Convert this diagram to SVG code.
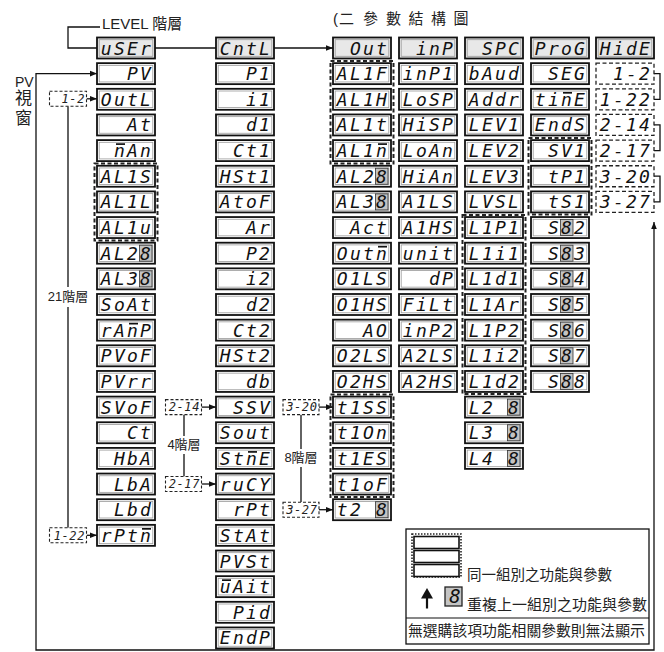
<svg xmlns="http://www.w3.org/2000/svg" xmlns:xlink="http://www.w3.org/1999/xlink" width="664" height="652" viewBox="0 0 664 652">
<style>
.box{fill:#fff;stroke:#111;stroke-width:1.8}
.hbox{fill:#e8e8e8;stroke:#111;stroke-width:1.8}
.inner{fill:none;stroke:#9a9a9a;stroke-width:0.8}
.seg{font-family:"DejaVu Sans Mono","Liberation Mono",monospace;font-style:italic;font-size:18px;letter-spacing:2.2px;text-anchor:end;fill:#111}
.segs{font-family:"DejaVu Sans Mono","Liberation Mono",monospace;font-style:italic;font-size:12px;letter-spacing:0.6px;text-anchor:end;fill:#222}
.cell{fill:#c4c4c4;stroke:#333;stroke-width:0.8}
.grp{fill:none;stroke:#222;stroke-width:2;stroke-dasharray:4 2.5}
.dbox{fill:#fff;stroke:#222;stroke-width:1.3;stroke-dasharray:4 2.5}
.lbl{fill:#fff;stroke:#222;stroke-width:1.1;stroke-dasharray:3 2}
.ln{fill:none;stroke:#111;stroke-width:1.3}
.ov{fill:none;stroke:#111;stroke-width:1.7}
.cjk{font-family:"Liberation Sans","Noto Sans CJK TC",sans-serif;fill:#222}
</style>
<defs>
<g id="b"><rect class="box" width="58" height="21"/><rect class="inner" x="2.2" y="2.2" width="53.6" height="16.6"/></g>
<g id="hb"><rect class="hbox" width="58" height="21"/><rect class="inner" x="2.2" y="2.2" width="53.6" height="16.6"/></g>
<rect id="c1" class="cell" x="42.5" y="2.5" width="12.5" height="16"/>
<rect id="c2" class="cell" x="29.5" y="2.5" width="12.5" height="16"/>
<marker id="ah" viewBox="0 0 10 10" refX="10" refY="5" markerWidth="7" markerHeight="7" markerUnits="userSpaceOnUse" orient="auto-start-reverse"><path d="M0,1 L10,5 L0,9 z" fill="#111"/></marker>
</defs>

<text class="cjk" x="333 339 355 363 379 386 402 408.5 424 431 447 453.5" y="23.5" font-size="15">(二 參 數 結 構 圖</text>
<text class="cjk" x="102" y="29" font-size="15">LEVEL 階層</text>
<text class="cjk" x="15" y="87" font-size="14">PV</text>
<text class="cjk" x="15" y="104" font-size="17">視</text>
<text class="cjk" x="15" y="124" font-size="17">窗</text>
<text class="cjk" x="68" y="301" font-size="13" text-anchor="middle">21階層</text>
<text class="cjk" x="184" y="449" font-size="13" text-anchor="middle">4階層</text>
<text class="cjk" x="301" y="462" font-size="13" text-anchor="middle">8階層</text>

<g id="connectors">
<path class="ln" d="M100 27 H68 V48 H97"/>
<path class="ln" d="M155 48 H216"/>
<path class="ln" d="M274 48 H333" marker-end="url(#ah)"/>
<path class="ln" d="M654 222 V650 H36 V73.6 H97" marker-start="url(#ah)" marker-end="url(#ah)"/>
<path class="ln" d="M86.5 98.8 H97" marker-end="url(#ah)"/>
<path class="ln" d="M86.5 535.3 H97" marker-end="url(#ah)"/>
<path class="ln" d="M68 106.3 V287 M68 307 V527.8"/>
<path class="ln" d="M201.5 407.1 H216" marker-end="url(#ah)"/>
<path class="ln" d="M201.5 484 H216" marker-end="url(#ah)"/>
<path class="ln" d="M184 414.6 V436 M184 454 V476.5"/>
<path class="ln" d="M319 407.1 H333" marker-end="url(#ah)"/>
<path class="ln" d="M319 509.7 H333" marker-end="url(#ah)"/>
<path class="ln" d="M301 414.6 V449 M301 467 V502.2"/>
<path class="ln" d="M654 73.6 H660 V99.3 H654 M654 124.9 H660 V150.6 H654 M654 176.2 H660 V201.9 H654"/>
</g>

<g id="groups">
<rect class="grp" x="94.5" y="163.5" width="63" height="77"/>
<rect class="grp" x="330.5" y="61" width="63" height="102.5"/>
<rect class="grp" x="330.5" y="394.5" width="63" height="102.5"/>
<rect class="grp" x="462.5" y="215" width="63" height="179"/>
<rect class="grp" x="528.5" y="138" width="63" height="76.5"/>
</g>

<!-- labels -->
<g id="l-1-2"><rect class="lbl" x="49.5" y="91.3" width="37" height="15"/><text class="segs" x="85" y="103">1-2</text></g>
<g id="l-1-22"><rect class="lbl" x="49.5" y="527.8" width="37" height="15"/><text class="segs" x="85" y="539.5">1-22</text></g>
<g id="l-2-14"><rect class="lbl" x="165.5" y="399.6" width="36" height="15"/><text class="segs" x="200" y="411.3">2-14</text></g>
<g id="l-2-17"><rect class="lbl" x="165.5" y="476.5" width="36" height="15"/><text class="segs" x="200" y="488.2">2-17</text></g>
<g id="l-3-20"><rect class="lbl" x="283" y="399.6" width="36" height="15"/><text class="segs" x="317.5" y="411.3">3-20</text></g>
<g id="l-3-27"><rect class="lbl" x="283" y="502.2" width="36" height="15"/><text class="segs" x="317.5" y="513.9">3-27</text></g>

<!-- column A -->
<g id="a0"><use href="#hb" x="97" y="37.5"/><text class="seg" x="153" y="54.5">uSEr</text></g>
<g id="a1"><use href="#b" x="97" y="63.15"/><text class="seg" x="153" y="80.15">PV</text></g>
<g id="a2"><use href="#b" x="97" y="88.8"/><text class="seg" x="153" y="105.8">OutL</text></g>
<g id="a3"><use href="#b" x="97" y="114.45"/><text class="seg" x="153" y="131.45">At</text></g>
<g id="a4"><use href="#b" x="97" y="140.1"/><text class="seg" x="153" y="157.1">nAn</text><path class="ov" d="M116 144.1 h9"/></g>
<g id="a5"><use href="#b" x="97" y="165.75"/><text class="seg" x="153" y="182.75">AL1S</text></g>
<g id="a6"><use href="#b" x="97" y="191.4"/><text class="seg" x="153" y="208.4">AL1L</text></g>
<g id="a7"><use href="#b" x="97" y="217.05"/><text class="seg" x="153" y="234.05">AL1u</text></g>
<g id="a8"><use href="#b" x="97" y="242.7"/><use href="#c1" x="97" y="242.7"/><text class="seg" x="153" y="259.7">AL28</text></g>
<g id="a9"><use href="#b" x="97" y="268.35"/><use href="#c1" x="97" y="268.35"/><text class="seg" x="153" y="285.35">AL38</text></g>
<g id="a10"><use href="#b" x="97" y="294"/><text class="seg" x="153" y="311">SoAt</text></g>
<g id="a11"><use href="#b" x="97" y="319.65"/><text class="seg" x="153" y="336.65">rAnP</text><path class="ov" d="M129 323.65 h9"/></g>
<g id="a12"><use href="#b" x="97" y="345.3"/><text class="seg" x="153" y="362.3">PVoF</text></g>
<g id="a13"><use href="#b" x="97" y="370.95"/><text class="seg" x="153" y="387.95">PVrr</text></g>
<g id="a14"><use href="#b" x="97" y="396.6"/><text class="seg" x="153" y="413.6">SVoF</text></g>
<g id="a15"><use href="#b" x="97" y="422.25"/><text class="seg" x="153" y="439.25">Ct</text></g>
<g id="a16"><use href="#b" x="97" y="447.9"/><text class="seg" x="153" y="464.9">HbA</text></g>
<g id="a17"><use href="#b" x="97" y="473.55"/><text class="seg" x="153" y="490.55">LbA</text></g>
<g id="a18"><use href="#b" x="97" y="499.2"/><text class="seg" x="153" y="516.2">Lbd</text></g>
<g id="a19"><use href="#b" x="97" y="524.85"/><text class="seg" x="153" y="541.85">rPtn</text><path class="ov" d="M142 528.85 h9"/></g>

<!-- column B -->
<g id="b0"><use href="#hb" x="216" y="37.5"/><text class="seg" x="272" y="54.5">CntL</text></g>
<g id="b1"><use href="#b" x="216" y="63.15"/><text class="seg" x="272" y="80.15">P1</text></g>
<g id="b2"><use href="#b" x="216" y="88.8"/><text class="seg" x="272" y="105.8">i1</text></g>
<g id="b3"><use href="#b" x="216" y="114.45"/><text class="seg" x="272" y="131.45">d1</text></g>
<g id="b4"><use href="#b" x="216" y="140.1"/><text class="seg" x="272" y="157.1">Ct1</text></g>
<g id="b5"><use href="#b" x="216" y="165.75"/><text class="seg" x="272" y="182.75">HSt1</text></g>
<g id="b6"><use href="#b" x="216" y="191.4"/><text class="seg" x="272" y="208.4">AtoF</text></g>
<g id="b7"><use href="#b" x="216" y="217.05"/><text class="seg" x="272" y="234.05">Ar</text></g>
<g id="b8"><use href="#b" x="216" y="242.7"/><text class="seg" x="272" y="259.7">P2</text></g>
<g id="b9"><use href="#b" x="216" y="268.35"/><text class="seg" x="272" y="285.35">i2</text></g>
<g id="b10"><use href="#b" x="216" y="294"/><text class="seg" x="272" y="311">d2</text></g>
<g id="b11"><use href="#b" x="216" y="319.65"/><text class="seg" x="272" y="336.65">Ct2</text></g>
<g id="b12"><use href="#b" x="216" y="345.3"/><text class="seg" x="272" y="362.3">HSt2</text></g>
<g id="b13"><use href="#b" x="216" y="370.95"/><text class="seg" x="272" y="387.95">db</text></g>
<g id="b14"><use href="#b" x="216" y="396.6"/><text class="seg" x="272" y="413.6">SSV</text></g>
<g id="b15"><use href="#b" x="216" y="422.25"/><text class="seg" x="272" y="439.25">Sout</text></g>
<g id="b16"><use href="#b" x="216" y="447.9"/><text class="seg" x="272" y="464.9">StnE</text><path class="ov" d="M248 451.9 h9"/></g>
<g id="b17"><use href="#b" x="216" y="473.55"/><text class="seg" x="272" y="490.55">ruCY</text></g>
<g id="b18"><use href="#b" x="216" y="499.2"/><text class="seg" x="272" y="516.2">rPt</text></g>
<g id="b19"><use href="#b" x="216" y="524.85"/><text class="seg" x="272" y="541.85">StAt</text></g>
<g id="b20"><use href="#b" x="216" y="550.5"/><text class="seg" x="272" y="567.5">PVSt</text></g>
<g id="b21"><use href="#b" x="216" y="576.15"/><text class="seg" x="272" y="593.15">uAit</text><path class="ov" d="M222 580.15 h9"/></g>
<g id="b22"><use href="#b" x="216" y="601.8"/><text class="seg" x="272" y="618.8">Pid</text></g>
<g id="b23"><use href="#b" x="216" y="627.45"/><text class="seg" x="272" y="644.45">EndP</text></g>

<!-- column C -->
<g id="c0"><use href="#hb" x="333" y="37.5"/><text class="seg" x="389" y="54.5">Out</text></g>
<g id="c1n"><use href="#b" x="333" y="63.15"/><text class="seg" x="389" y="80.15">AL1F</text></g>
<g id="c2n"><use href="#b" x="333" y="88.8"/><text class="seg" x="389" y="105.8">AL1H</text></g>
<g id="c3"><use href="#b" x="333" y="114.45"/><text class="seg" x="389" y="131.45">AL1t</text></g>
<g id="c4"><use href="#b" x="333" y="140.1"/><text class="seg" x="389" y="157.1">AL1n</text><path class="ov" d="M378 144.1 h9"/></g>
<g id="c5"><use href="#b" x="333" y="165.75"/><use href="#c1" x="333" y="165.75"/><text class="seg" x="389" y="182.75">AL28</text></g>
<g id="c6"><use href="#b" x="333" y="191.4"/><use href="#c1" x="333" y="191.4"/><text class="seg" x="389" y="208.4">AL38</text></g>
<g id="c7"><use href="#b" x="333" y="217.05"/><text class="seg" x="389" y="234.05">Act</text></g>
<g id="c8"><use href="#b" x="333" y="242.7"/><text class="seg" x="389" y="259.7">Outn</text><path class="ov" d="M378 246.7 h9"/></g>
<g id="c9"><use href="#b" x="333" y="268.35"/><text class="seg" x="389" y="285.35">O1LS</text></g>
<g id="c10"><use href="#b" x="333" y="294"/><text class="seg" x="389" y="311">O1HS</text></g>
<g id="c11"><use href="#b" x="333" y="319.65"/><text class="seg" x="389" y="336.65">AO</text></g>
<g id="c12"><use href="#b" x="333" y="345.3"/><text class="seg" x="389" y="362.3">O2LS</text></g>
<g id="c13"><use href="#b" x="333" y="370.95"/><text class="seg" x="389" y="387.95">O2HS</text></g>
<g id="c14"><use href="#b" x="333" y="396.6"/><text class="seg" x="389" y="413.6">t1SS</text></g>
<g id="c15"><use href="#b" x="333" y="422.25"/><text class="seg" x="389" y="439.25">t1On</text></g>
<g id="c16"><use href="#b" x="333" y="447.9"/><text class="seg" x="389" y="464.9">t1ES</text></g>
<g id="c17"><use href="#b" x="333" y="473.55"/><text class="seg" x="389" y="490.55">t1oF</text></g>
<g id="c18"><use href="#b" x="333" y="499.2"/><use href="#c1" x="333" y="499.2"/><text class="seg" x="389" y="516.2" xml:space="preserve">t2 8</text></g>

<!-- column D -->
<g id="d0"><use href="#hb" x="399" y="37.5"/><text class="seg" x="455" y="54.5">inP</text></g>
<g id="d1"><use href="#b" x="399" y="63.15"/><text class="seg" x="455" y="80.15">inP1</text></g>
<g id="d2"><use href="#b" x="399" y="88.8"/><text class="seg" x="455" y="105.8">LoSP</text></g>
<g id="d3"><use href="#b" x="399" y="114.45"/><text class="seg" x="455" y="131.45">HiSP</text></g>
<g id="d4"><use href="#b" x="399" y="140.1"/><text class="seg" x="455" y="157.1">LoAn</text></g>
<g id="d5"><use href="#b" x="399" y="165.75"/><text class="seg" x="455" y="182.75">HiAn</text></g>
<g id="d6"><use href="#b" x="399" y="191.4"/><text class="seg" x="455" y="208.4">A1LS</text></g>
<g id="d7"><use href="#b" x="399" y="217.05"/><text class="seg" x="455" y="234.05">A1HS</text></g>
<g id="d8"><use href="#b" x="399" y="242.7"/><text class="seg" x="455" y="259.7">unit</text></g>
<g id="d9"><use href="#b" x="399" y="268.35"/><text class="seg" x="455" y="285.35">dP</text></g>
<g id="d10"><use href="#b" x="399" y="294"/><text class="seg" x="455" y="311">FiLt</text></g>
<g id="d11"><use href="#b" x="399" y="319.65"/><text class="seg" x="455" y="336.65">inP2</text></g>
<g id="d12"><use href="#b" x="399" y="345.3"/><text class="seg" x="455" y="362.3">A2LS</text></g>
<g id="d13"><use href="#b" x="399" y="370.95"/><text class="seg" x="455" y="387.95">A2HS</text></g>

<!-- column E -->
<g id="e0"><use href="#hb" x="465" y="37.5"/><text class="seg" x="521" y="54.5">SPC</text></g>
<g id="e1"><use href="#b" x="465" y="63.15"/><text class="seg" x="521" y="80.15">bAud</text></g>
<g id="e2"><use href="#b" x="465" y="88.8"/><text class="seg" x="521" y="105.8">Addr</text></g>
<g id="e3"><use href="#b" x="465" y="114.45"/><text class="seg" x="521" y="131.45">LEV1</text></g>
<g id="e4"><use href="#b" x="465" y="140.1"/><text class="seg" x="521" y="157.1">LEV2</text></g>
<g id="e5"><use href="#b" x="465" y="165.75"/><text class="seg" x="521" y="182.75">LEV3</text></g>
<g id="e6"><use href="#b" x="465" y="191.4"/><text class="seg" x="521" y="208.4">LVSL</text></g>
<g id="e7"><use href="#b" x="465" y="217.05"/><text class="seg" x="521" y="234.05">L1P1</text></g>
<g id="e8"><use href="#b" x="465" y="242.7"/><text class="seg" x="521" y="259.7">L1i1</text></g>
<g id="e9"><use href="#b" x="465" y="268.35"/><text class="seg" x="521" y="285.35">L1d1</text></g>
<g id="e10"><use href="#b" x="465" y="294"/><text class="seg" x="521" y="311">L1Ar</text></g>
<g id="e11"><use href="#b" x="465" y="319.65"/><text class="seg" x="521" y="336.65">L1P2</text></g>
<g id="e12"><use href="#b" x="465" y="345.3"/><text class="seg" x="521" y="362.3">L1i2</text></g>
<g id="e13"><use href="#b" x="465" y="370.95"/><text class="seg" x="521" y="387.95">L1d2</text></g>
<g id="e14"><use href="#b" x="465" y="396.6"/><use href="#c1" x="465" y="396.6"/><text class="seg" x="521" y="413.6" xml:space="preserve">L2 8</text></g>
<g id="e15"><use href="#b" x="465" y="422.25"/><use href="#c1" x="465" y="422.25"/><text class="seg" x="521" y="439.25" xml:space="preserve">L3 8</text></g>
<g id="e16"><use href="#b" x="465" y="447.9"/><use href="#c1" x="465" y="447.9"/><text class="seg" x="521" y="464.9" xml:space="preserve">L4 8</text></g>

<!-- column F -->
<g id="f0"><use href="#hb" x="531" y="37.5"/><text class="seg" x="587" y="54.5">ProG</text></g>
<g id="f1"><use href="#b" x="531" y="63.15"/><text class="seg" x="587" y="80.15">SEG</text></g>
<g id="f2"><use href="#b" x="531" y="88.8"/><text class="seg" x="587" y="105.8">tinE</text><path class="ov" d="M563 92.8 h9"/></g>
<g id="f3"><use href="#b" x="531" y="114.45"/><text class="seg" x="587" y="131.45">EndS</text></g>
<g id="f4"><use href="#b" x="531" y="140.1"/><text class="seg" x="587" y="157.1">SV1</text></g>
<g id="f5"><use href="#b" x="531" y="165.75"/><text class="seg" x="587" y="182.75">tP1</text></g>
<g id="f6"><use href="#b" x="531" y="191.4"/><text class="seg" x="587" y="208.4">tS1</text></g>
<g id="f7"><use href="#b" x="531" y="217.05"/><use href="#c2" x="531" y="217.05"/><text class="seg" x="587" y="234.05">S82</text></g>
<g id="f8"><use href="#b" x="531" y="242.7"/><use href="#c2" x="531" y="242.7"/><text class="seg" x="587" y="259.7">S83</text></g>
<g id="f9"><use href="#b" x="531" y="268.35"/><use href="#c2" x="531" y="268.35"/><text class="seg" x="587" y="285.35">S84</text></g>
<g id="f10"><use href="#b" x="531" y="294"/><use href="#c2" x="531" y="294"/><text class="seg" x="587" y="311">S85</text></g>
<g id="f11"><use href="#b" x="531" y="319.65"/><use href="#c2" x="531" y="319.65"/><text class="seg" x="587" y="336.65">S86</text></g>
<g id="f12"><use href="#b" x="531" y="345.3"/><use href="#c2" x="531" y="345.3"/><text class="seg" x="587" y="362.3">S87</text></g>
<g id="f13"><use href="#b" x="531" y="370.95"/><use href="#c2" x="531" y="370.95"/><text class="seg" x="587" y="387.95">S88</text></g>

<!-- column G -->
<g id="g0"><use href="#hb" x="596" y="37.5"/><text class="seg" x="652" y="54.5">HidE</text></g>
<g id="g1"><rect class="dbox" x="596" y="63.15" width="58" height="21"/><text class="seg" x="652" y="80.15">1-2</text></g>
<g id="g2"><rect class="dbox" x="596" y="88.8" width="58" height="21"/><text class="seg" x="652" y="105.8">1-22</text></g>
<g id="g3"><rect class="dbox" x="596" y="114.45" width="58" height="21"/><text class="seg" x="652" y="131.45">2-14</text></g>
<g id="g4"><rect class="dbox" x="596" y="140.1" width="58" height="21"/><text class="seg" x="652" y="157.1">2-17</text></g>
<g id="g5"><rect class="dbox" x="596" y="165.75" width="58" height="21"/><text class="seg" x="652" y="182.75">3-20</text></g>
<g id="g6"><rect class="dbox" x="596" y="191.4" width="58" height="21"/><text class="seg" x="652" y="208.4">3-27</text></g>

<!-- legend -->
<g id="legend">
<rect x="406" y="529" width="243" height="115" fill="#fff" stroke="#111" stroke-width="1.3"/>
<line x1="406" y1="618" x2="649" y2="618" stroke="#111" stroke-width="1.2"/>
<rect x="412" y="534" width="49" height="43" fill="none" stroke="#222" stroke-width="1.6" stroke-dasharray="1.5 1.5"/>
<rect x="414" y="536.5" width="45" height="12" fill="#fff" stroke="#111" stroke-width="1.6"/>
<rect x="414" y="550.5" width="45" height="12" fill="#fff" stroke="#111" stroke-width="1.6"/>
<rect x="414" y="564.5" width="45" height="12" fill="#fff" stroke="#111" stroke-width="1.6"/>
<text class="cjk" x="467" y="580" font-size="14.5">同一組別之功能與參數</text>
<polygon points="427,588 421,598.5 433,598.5" fill="#111"/>
<line x1="427" y1="598" x2="427" y2="608.5" stroke="#111" stroke-width="2.2"/>
<rect x="445" y="587" width="17" height="19" fill="#c4c4c4" stroke="#222" stroke-width="1.3"/>
<text x="455" y="603" font-family="DejaVu Sans Mono, monospace" font-style="italic" font-size="19" text-anchor="middle" fill="#111">8</text>
<text class="cjk" x="467" y="610" font-size="15">重複上一組別之功能與參數</text>
<text class="cjk" x="408" y="636" font-size="14.8">無選購該項功能相關參數則無法顯示</text>
</g>
</svg>
